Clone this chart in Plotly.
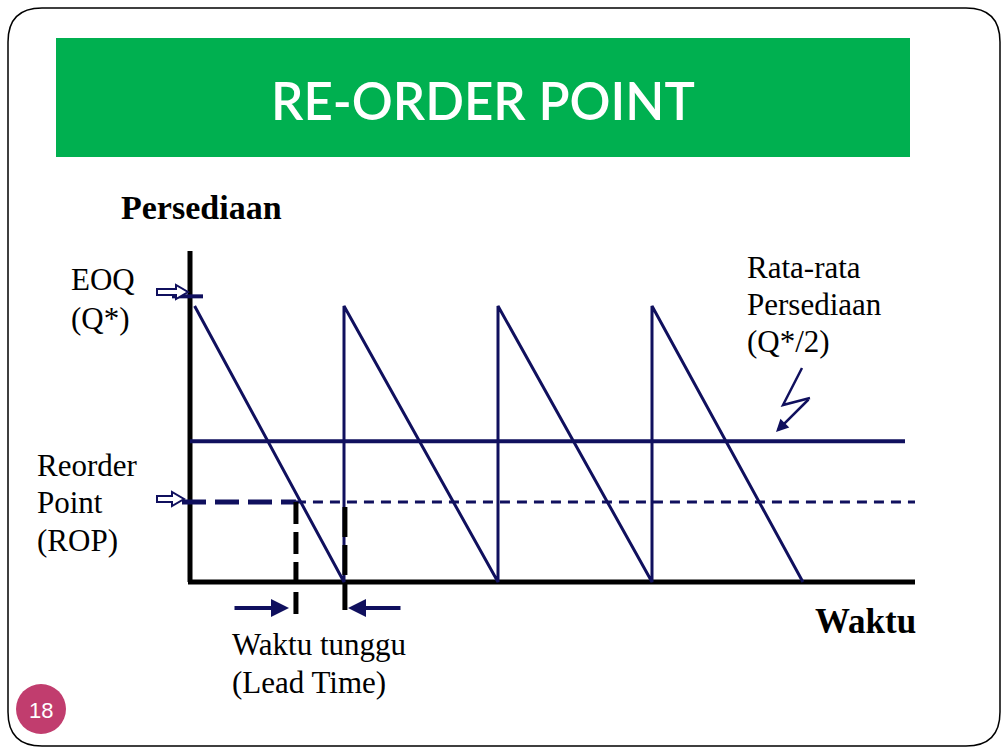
import plotly.graph_objects as go

# ---------------- data ----------------
peak_times = [0.03, 1.0, 2.0, 3.0]        # replenishment moments (time units)
stockout_times = [1.0, 2.0, 3.0, 3.98]    # moments stock reaches zero
peak_levels = [100, 100, 100, 100]        # inventory right after an order arrives
eoq_level = 103.5                         # EOQ (Q*) marker level
avg_level = 51                            # average inventory (Q*/2)
rop_level = 29                            # reorder point
lead_start = 0.688                        # order placed (stock hits ROP)
lead_end = 1.006                          # order arrives

# ---------------- geometry (pixel mapping) ----------------
W, H = 1008, 756
X0, PXT = 190, 154      # pixel of t=0, pixels per time unit
Y0, PXQ = 582, 2.76     # pixel of Q=0, pixels per inventory unit

def t_of(px):
    return (px - X0) / PXT

def q_of(py):
    return (Y0 - py) / PXQ

def px(x):
    return x / W

def py(y):
    return 1 - y / H

NAVY = "#10105E"
BLACK = "#000000"
SERIF = "Liberation Serif, Times New Roman, serif"

fig = go.Figure()

# axes (drawn as lines)
y_axis_top = q_of(251)
x_axis_end = t_of(915)
fig.add_trace(go.Scatter(x=[0, 0], y=[0, y_axis_top], mode="lines",
                         line=dict(color=BLACK, width=5), hoverinfo="skip"))
fig.add_trace(go.Scatter(x=[t_of(188), x_axis_end], y=[0, 0], mode="lines",
                         line=dict(color=BLACK, width=5), hoverinfo="skip"))

# average inventory line
fig.add_trace(go.Scatter(x=[0, t_of(905)], y=[avg_level, avg_level], mode="lines",
                         line=dict(color=NAVY, width=4), hoverinfo="skip"))

# reorder point lines
fig.add_trace(go.Scatter(x=[t_of(182), lead_start], y=[rop_level, rop_level], mode="lines",
                         line=dict(color=NAVY, width=5, dash="24px,9px"), hoverinfo="skip"))
fig.add_trace(go.Scatter(x=[lead_start, x_axis_end], y=[rop_level, rop_level], mode="lines",
                         line=dict(color=NAVY, width=3, dash="10px,7px"), hoverinfo="skip"))

# sawtooth inventory
saw_x, saw_y = [], []
for tp, ts, lv in zip(peak_times, stockout_times, peak_levels):
    saw_x += [tp, ts]
    saw_y += [lv, 0]
fig.add_trace(go.Scatter(x=saw_x, y=saw_y, mode="lines",
                         line=dict(color=NAVY, width=3), hoverinfo="skip"))

# EOQ tick
fig.add_trace(go.Scatter(x=[t_of(172), t_of(203)], y=[eoq_level, eoq_level], mode="lines",
                         line=dict(color=NAVY, width=4), hoverinfo="skip"))

# lead-time vertical dashed lines
fig.add_trace(go.Scatter(x=[lead_start, lead_start], y=[rop_level, q_of(619)], mode="lines",
                         line=dict(color=BLACK, width=5, dash="22px,8px"), hoverinfo="skip"))
fig.add_trace(go.Scatter(x=[lead_end, lead_end], y=[q_of(507), q_of(610)], mode="lines",
                         line=dict(color=BLACK, width=5, dash="30px,8px"), hoverinfo="skip"))

shapes = []
# rounded slide border
x0b, y0b, x1b, y1b, r = 8, 8, 1000, 746, 34
def P(x, y):
    return f"{px(x):.5f},{py(y):.5f}"
border = (f"M {P(x0b + r, y0b)} L {P(x1b - r, y0b)} Q {P(x1b, y0b)} {P(x1b, y0b + r)} "
          f"L {P(x1b, y1b - r)} Q {P(x1b, y1b)} {P(x1b - r, y1b)} "
          f"L {P(x0b + r, y1b)} Q {P(x0b, y1b)} {P(x0b, y1b - r)} "
          f"L {P(x0b, y0b + r)} Q {P(x0b, y0b)} {P(x0b + r, y0b)} Z")
shapes.append(dict(type="path", xref="paper", yref="paper", path=border,
                   line=dict(color=BLACK, width=1.5), layer="below"))
# green banner
shapes.append(dict(type="rect", xref="paper", yref="paper",
                   x0=px(56), x1=px(910), y0=py(157), y1=py(38),
                   fillcolor="#00B050", line=dict(width=0), layer="below"))
# page number circle
shapes.append(dict(type="circle", xref="paper", yref="paper",
                   x0=px(16), x1=px(66), y0=py(734), y1=py(684),
                   fillcolor="#C13D6E", line=dict(width=0)))

def block_arrow(xl, xr, yc):
    pts = [(xl, yc - 3), (xr - 12, yc - 3), (xr - 12, yc - 7), (xr, yc),
           (xr - 12, yc + 7), (xr - 12, yc + 3), (xl, yc + 3)]
    return "M " + " L ".join(P(a, b) for a, b in pts) + " Z"

shapes.append(dict(type="path", xref="paper", yref="paper", path=block_arrow(157, 188, 292),
                   line=dict(color=NAVY, width=2), fillcolor="white"))
shapes.append(dict(type="path", xref="paper", yref="paper", path=block_arrow(157, 184, 499),
                   line=dict(color=NAVY, width=2), fillcolor="white"))
# lightning pointer
shapes.append(dict(type="path", xref="paper", yref="paper",
                   path=f"M {P(802, 368)} L {P(783, 405)} L {P(810, 398)}",
                   line=dict(color=NAVY, width=2.5)))

annotations = []

def label(text, x, y, size=31, bold=False, color=BLACK, family=SERIF, xanchor="left", weight=None):
    t = f"<b>{text}</b>" if bold else text
    font = dict(family=family, size=size, color=color)
    if weight:
        font["weight"] = weight
    annotations.append(dict(text=t, x=px(x), y=py(y), xref="paper", yref="paper",
                            xanchor=xanchor, yanchor="middle", showarrow=False,
                            font=font))

label("RE-ORDER POINT", 483, 100, size=51, color="white",
      family="Lato, Open Sans, sans-serif", xanchor="center", weight=600)
label("Persediaan", 119, 207, size=34, bold=True)
label("EOQ", 69, 279)
label("(Q*)", 69, 318)
label("Rata-rata", 745, 267)
label("Persediaan", 745, 304)
label("(Q*/2)", 745, 342)
label("Reorder", 35, 465)
label("Point", 35, 502)
label("(ROP)", 35, 540)
label("Waktu tunggu", 230, 644)
label("(Lead Time)", 230, 682)
label("Waktu", 813, 621, size=35, bold=True)
label("18", 41, 710, size=22, color="white",
      family="Liberation Sans, Arial, sans-serif", xanchor="center")

# arrows
annotations.append(dict(x=px(776), y=py(432), xref="paper", yref="paper", text="",
                        showarrow=True, ax=34, ay=-34, arrowhead=2, arrowsize=1,
                        arrowwidth=2.5, arrowcolor=NAVY))
annotations.append(dict(x=t_of(289), y=q_of(608), xref="x", yref="y", text="",
                        showarrow=True, ax=-56, ay=0, arrowhead=2, arrowsize=0.9,
                        arrowwidth=4, arrowcolor=NAVY))
annotations.append(dict(x=t_of(348), y=q_of(608), xref="x", yref="y", text="",
                        showarrow=True, ax=54, ay=0, arrowhead=2, arrowsize=0.9,
                        arrowwidth=4, arrowcolor=NAVY))

fig.update_layout(
    width=W, height=H,
    margin=dict(l=0, r=0, t=0, b=0),
    paper_bgcolor="white", plot_bgcolor="white",
    showlegend=False,
    xaxis=dict(range=[t_of(0), t_of(W)], visible=False, fixedrange=True),
    yaxis=dict(range=[q_of(H), q_of(0)], visible=False, fixedrange=True),
    shapes=shapes,
    annotations=annotations,
)

fig.write_html("out.html", config={"displayModeBar": False},
               post_script="document.body.style.margin='0';document.body.style.overflow='hidden';")
